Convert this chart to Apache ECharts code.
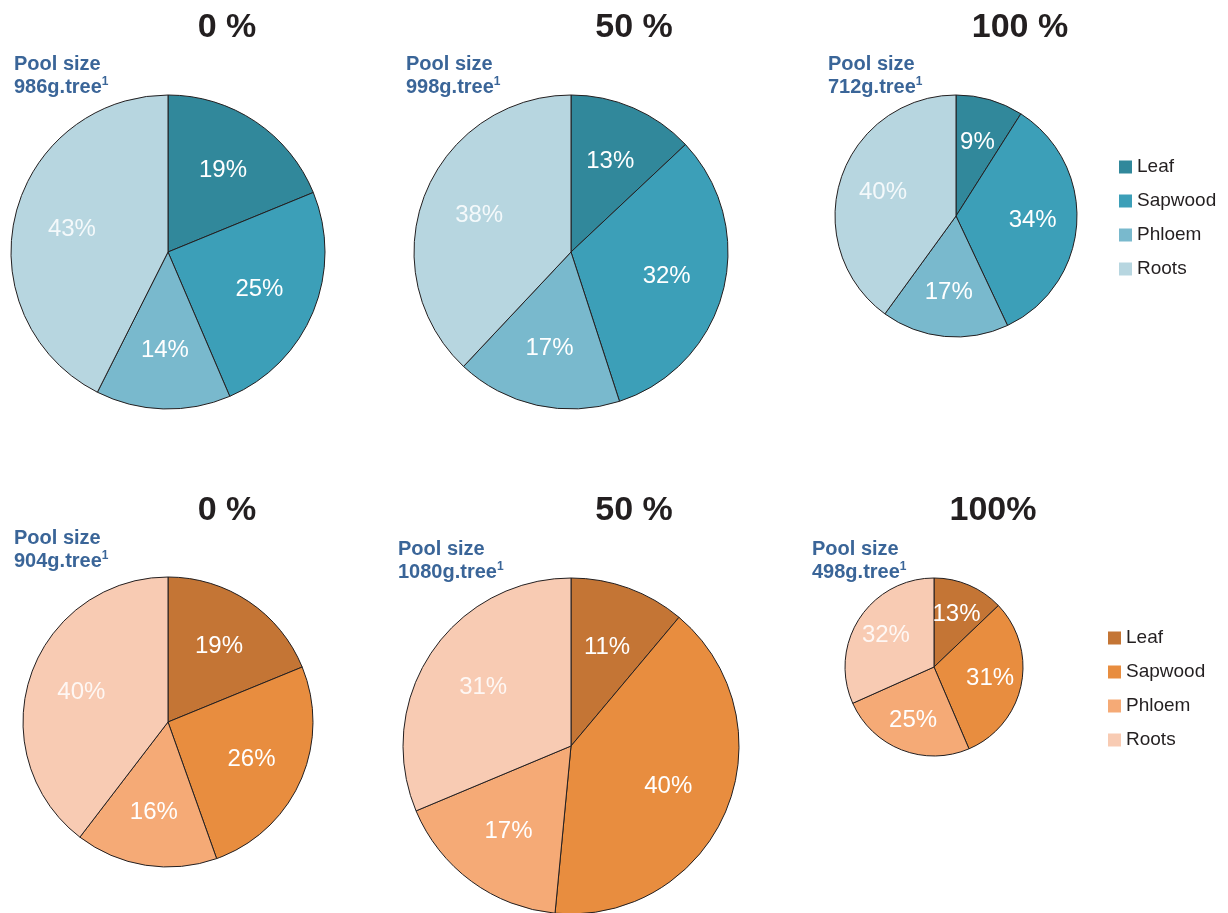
<!DOCTYPE html>
<html>
<head>
<meta charset="utf-8">
<title>Carbon pool partitioning</title>
<script src="https://cdn.jsdelivr.net/npm/echarts@6/dist/echarts.min.js"></script>
<style>
  html, body { margin: 0; padding: 0; background: #ffffff; }
  #chart { width: 1228px; height: 913px; }
</style>
</head>
<body>
<div id="chart"></div>
<script>
// Tissue categories, clockwise from 12 o'clock
const tissues = ['Leaf', 'Sapwood', 'Phloem', 'Roots'];

// Share of the pool held in each tissue (%), one array per panel
const topShares0   = [19, 25, 14, 43];
const topShares50  = [13, 32, 17, 38];
const topShares100 = [9, 34, 17, 40];
const botShares0   = [19, 26, 16, 40];
const botShares50  = [11, 40, 17, 31];
const botShares100 = [13, 31, 25, 32];

// Panel headings and total pool sizes (g per tree)
const topTitles = ['0 %', '50 %', '100 %'];
const botTitles = ['0 %', '50 %', '100%'];
const topPools = [986, 998, 712];
const botPools = [904, 1080, 498];

const blueColors   = ['#31889b', '#3c9fb8', '#79b9cd', '#b7d6e0'];
const orangeColors = ['#c47535', '#e88d3f', '#f5aa76', '#f8cbb3'];

// Layout of each panel: pie centre, radius, heading and pool-size text anchors
const panels = [
  { shares: topShares0,   colors: blueColors,   title: topTitles[0], pool: topPools[0], c: [168, 252], r: 157, t: [227, 28],  p: [14, 63] },
  { shares: topShares50,  colors: blueColors,   title: topTitles[1], pool: topPools[1], c: [571, 252], r: 157, t: [634, 28],  p: [406, 63] },
  { shares: topShares100, colors: blueColors,   title: topTitles[2], pool: topPools[2], c: [956, 216], r: 121, t: [1020, 28], p: [828, 63] },
  { shares: botShares0,   colors: orangeColors, title: botTitles[0], pool: botPools[0], c: [168, 722], r: 145, t: [227, 511], p: [14, 537] },
  { shares: botShares50,  colors: orangeColors, title: botTitles[1], pool: botPools[1], c: [571, 746], r: 168, t: [634, 511], p: [398, 548] },
  { shares: botShares100, colors: orangeColors, title: botTitles[2], pool: botPools[2], c: [934, 667], r: 89,  t: [993, 511], p: [812, 548] }
];

const FONT = '"Liberation Sans", Arial, Helvetica, sans-serif';

const series = [];
const graphics = [];

panels.forEach(function (pn) {
  const data = tissues.map(function (name, i) {
    return { name: name, value: pn.shares[i], itemStyle: { color: pn.colors[i] } };
  });

  // Filled wedges with thin dark outlines
  series.push({
    type: 'pie',
    center: pn.c,
    radius: [0, pn.r],
    startAngle: 90,
    clockwise: true,
    silent: true,
    animation: false,
    label: { show: false },
    labelLine: { show: false },
    itemStyle: { borderColor: '#231f20', borderWidth: 1 },
    data: data
  });

  // Transparent ring that only carries the percentage labels, pushing them outward
  series.push({
    type: 'pie',
    center: pn.c,
    radius: [pn.r * 0.22, pn.r],
    startAngle: 90,
    clockwise: true,
    silent: true,
    animation: false,
    legendHoverLink: false,
    itemStyle: { color: 'rgba(0,0,0,0)', borderWidth: 0 },
    label: {
      show: true,
      position: 'inside',
      formatter: '{c}%',
      color: '#ffffff',
      fontFamily: FONT,
      fontSize: 24,
      fontWeight: 'normal'
    },
    labelLine: { show: false },
    data: tissues.map(function (name, i) {
      return {
        name: name + ' label',
        value: pn.shares[i],
        label: i === 3 ? { color: 'rgba(255,255,255,0.85)' } : {}
      };
    })
  });

  graphics.push({
    type: 'text',
    x: pn.t[0],
    y: pn.t[1],
    style: {
      text: pn.title,
      fill: '#231f20',
      font: 'bold 34px ' + FONT,
      textAlign: 'center',
      textVerticalAlign: 'middle'
    }
  });

  graphics.push({
    type: 'text',
    x: pn.p[0],
    y: pn.p[1] - 10,
    style: {
      text: '{a|Pool size}\n{a|' + pn.pool + 'g.tree}{s|1}',
      rich: {
        a: { fill: '#3a6598', font: 'bold 20px ' + FONT, lineHeight: 23 },
        s: { fill: '#3a6598', font: 'bold 12px ' + FONT, lineHeight: 23, verticalAlign: 'top', padding: [0, 0, 8, 0] }
      },
      textVerticalAlign: 'top'
    }
  });
});

function legendFor(colors, left, top) {
  return {
    orient: 'vertical',
    left: left,
    top: top,
    icon: 'rect',
    itemWidth: 13,
    itemHeight: 13,
    itemGap: 14,
    selectedMode: false,
    textStyle: { fontFamily: FONT, fontSize: 19, color: '#231f20', lineHeight: 20 },
    data: tissues.map(function (name, i) {
      return { name: name, itemStyle: { color: colors[i], borderWidth: 0 } };
    })
  };
}

const chart = echarts.init(document.getElementById('chart'), null, { renderer: 'canvas' });
chart.setOption({
  backgroundColor: '#ffffff',
  animation: false,
  legend: [
    legendFor(blueColors, 1114, 152),
    legendFor(orangeColors, 1103, 623)
  ],
  graphic: graphics,
  series: series
});
</script>
</body>
</html>
